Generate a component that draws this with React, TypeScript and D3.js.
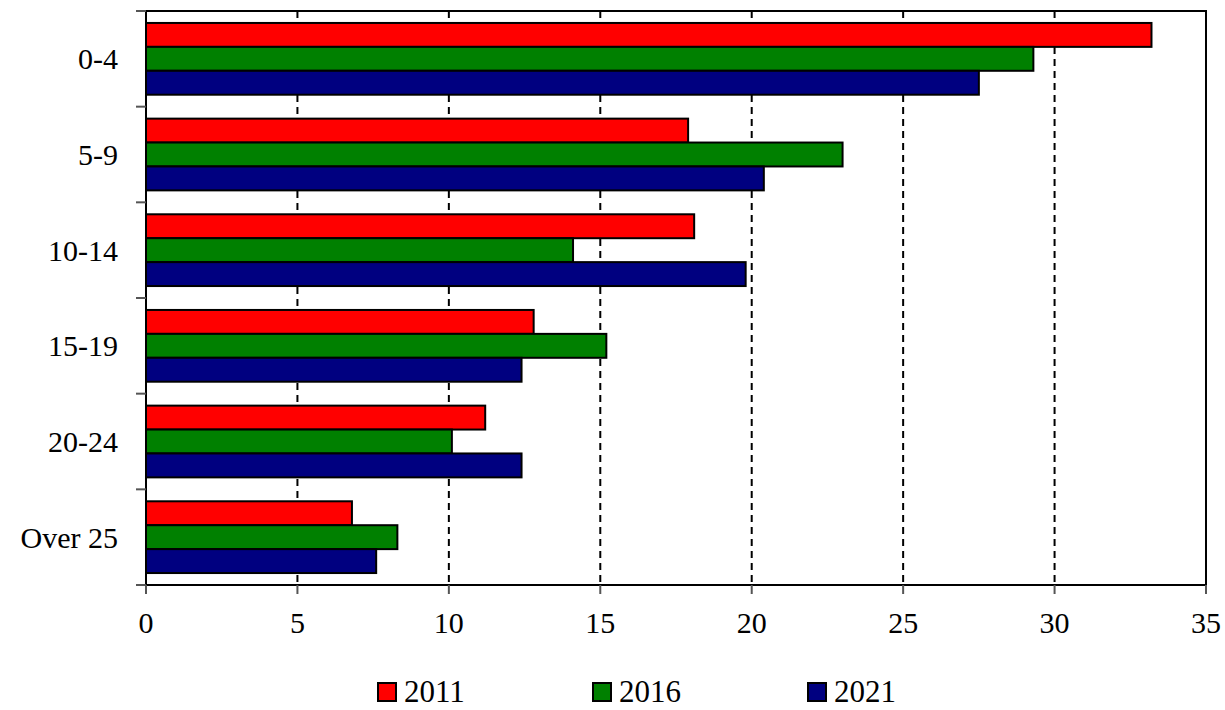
import { useEffect, useRef } from "react";
import * as d3 from "d3";

const categories = ["0-4", "5-9", "10-14", "15-19", "20-24", "Over 25"];
const years = ["2011", "2016", "2021"];
const values2011 = [33.2, 17.9, 18.1, 12.8, 11.2, 6.8];
const values2016 = [29.3, 23.0, 14.1, 15.2, 10.1, 8.3];
const values2021 = [27.5, 20.4, 19.8, 12.4, 12.4, 7.6];
const colors = ["#ff0000", "#008000", "#000080"];
const xTicks = [0, 5, 10, 15, 20, 25, 30, 35];

const W = 1225;
const H = 710;
const FONT = "'Liberation Serif', 'Times New Roman', serif";

const App = () => {
    const svgRef = useRef<SVGSVGElement>(null);

    useEffect(() => {
        document.body.style.margin = "0";
        const svg = d3.select(svgRef.current);
        const series = [values2011, values2016, values2021];

        const left = 146, right = 1206, top = 11, bottom = 585;

        const x = d3.scaleLinear().domain([0, 35]).range([left, right]);
        const y = d3.scaleBand<string>()
            .domain(categories)
            .range([top, bottom])
            .paddingInner(0.25)
            .paddingOuter(0.125);
        const yInner = d3.scaleBand<string>()
            .domain(years)
            .range([0, y.bandwidth()]);

        // dashed vertical grid
        svg.append("g")
            .selectAll("line")
            .data(xTicks.slice(1, -1))
            .join("line")
            .attr("x1", d => x(d))
            .attr("x2", d => x(d))
            .attr("y1", top)
            .attr("y2", bottom)
            .attr("stroke", "#000")
            .attr("stroke-width", 2)
            .attr("stroke-dasharray", "7,5");

        // bars
        const groups = svg.append("g")
            .selectAll("g")
            .data(categories)
            .join("g")
            .attr("transform", c => `translate(0,${y(c)})`);

        groups.selectAll("rect")
            .data((c, i) => years.map((yr, j) => ({ yr, j, v: series[j][i] })))
            .join("rect")
            .attr("x", x(0))
            .attr("y", d => yInner(d.yr)!)
            .attr("width", d => x(d.v) - x(0))
            .attr("height", yInner.bandwidth())
            .attr("fill", d => colors[d.j])
            .attr("stroke", "#000")
            .attr("stroke-width", 2);

        // frame
        svg.append("rect")
            .attr("x", left)
            .attr("y", top)
            .attr("width", right - left)
            .attr("height", bottom - top)
            .attr("fill", "none")
            .attr("stroke", "#000")
            .attr("stroke-width", 2);

        // left ticks at category boundaries
        const step = (bottom - top) / categories.length;
        const boundaries = d3.range(categories.length + 1).map(i => top + i * step);
        svg.append("g")
            .selectAll("line")
            .data(boundaries)
            .join("line")
            .attr("x1", left - 10)
            .attr("x2", left)
            .attr("y1", d => d)
            .attr("y2", d => d)
            .attr("stroke", "#555")
            .attr("stroke-width", 2);

        // category labels
        svg.append("g")
            .selectAll("text")
            .data(categories)
            .join("text")
            .attr("x", 118)
            .attr("y", c => top + categories.indexOf(c) * step + step / 2)
            .attr("dy", "0.35em")
            .attr("text-anchor", "end")
            .attr("font-family", FONT)
            .attr("font-size", 30)
            .text(c => c);

        // bottom ticks and labels
        svg.append("g")
            .selectAll("line")
            .data(xTicks)
            .join("line")
            .attr("x1", d => x(d))
            .attr("x2", d => x(d))
            .attr("y1", bottom)
            .attr("y2", bottom + 9)
            .attr("stroke", "#555")
            .attr("stroke-width", 2);

        svg.append("g")
            .selectAll("text")
            .data(xTicks)
            .join("text")
            .attr("x", d => x(d))
            .attr("y", 633)
            .attr("text-anchor", "middle")
            .attr("font-family", FONT)
            .attr("font-size", 30)
            .text(d => d);

        // legend
        const legend = svg.append("g")
            .selectAll("g")
            .data(years)
            .join("g")
            .attr("transform", (d, i) => `translate(${378 + i * 215},683)`);
        legend.append("rect")
            .attr("width", 18)
            .attr("height", 18)
            .attr("fill", (d, i) => colors[i])
            .attr("stroke", "#000")
            .attr("stroke-width", 2);
        legend.append("text")
            .attr("x", 26)
            .attr("y", 19)
            .attr("font-family", FONT)
            .attr("font-size", 31)
            .text(d => d);

        return () => {
            svg.selectAll("*").remove();
        };
    }, []);

    return (
        <svg ref={svgRef} width={W} height={H} style={{ display: "block", background: "#fff" }}></svg>
    );
};

export default App;
